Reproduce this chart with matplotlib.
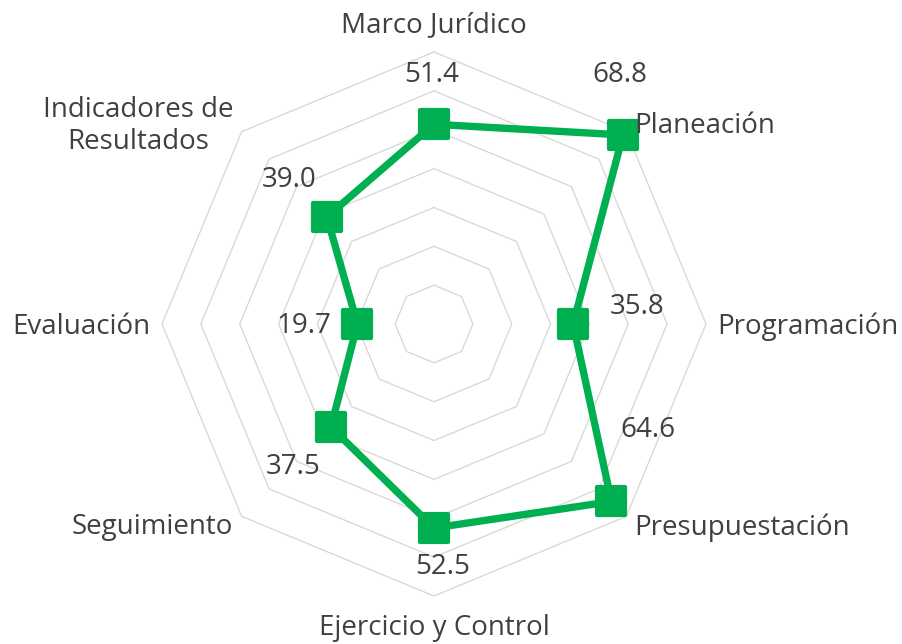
import numpy as np
import matplotlib
matplotlib.use("Agg")
import matplotlib.pyplot as plt
from matplotlib.markers import MarkerStyle

# data
categories = ["Marco Jurídico", "Planeación", "Programación", "Presupuestación",
              "Ejercicio y Control", "Seguimiento", "Evaluación", "Indicadores de\nResultados"]
values = [51.4, 68.8, 35.8, 64.6, 52.5, 37.5, 19.7, 39.0]
value_labels = ["51.4", "68.8", "35.8", "64.6", "52.5", "37.5", "19.7", "39.0"]
rings = [10, 20, 30, 40, 50, 60, 70]

green = "#00b050"
grid_c = "#d9d9d9"
text_c = "#404040"
plt.rcParams['font.family'] = ['Open Sans', 'DejaVu Sans']

W, H = 902, 644
cx, cy = 434, 324          # centre in pixels
scale = 272 / 70.0         # pixels per unit

fig = plt.figure(figsize=(W / 100, H / 100), dpi=100)
ax = fig.add_axes([0, 0, 1, 1])
ax.set_xlim(-cx / scale, (W - cx) / scale)
ax.set_ylim(-(H - cy) / scale, cy / scale)
ax.axis("off")

n = len(categories)
ang = np.deg2rad(90 - 45 * np.arange(n))

# octagon grid
for r in rings:
    xs = r * np.cos(np.append(ang, ang[0]))
    ys = r * np.sin(np.append(ang, ang[0]))
    ax.plot(xs, ys, color=grid_c, lw=1.0, zorder=1)

# series
v = np.array(values)
px = v * np.cos(ang)
py = v * np.sin(ang)
ax.plot(np.append(px, px[0]), np.append(py, py[0]), color=green, lw=5.3,
        solid_joinstyle="round", zorder=2)
ax.plot(px, py, ls="none", marker=MarkerStyle("s", joinstyle="round"),
        ms=19.5, mfc=green, mec=green, mew=3, zorder=3)

# value labels (offsets in pixels from the marker)
offsets = [(-2, 49), (-3, 60), (64, 17), (36, 71), (9, -39), (-38, -40), (-54, -2), (-38, 37)]
for x, y, lab, off in zip(px, py, value_labels, offsets):
    ax.annotate(lab, (x, y), xytext=off, textcoords="offset pixels",
                ha="center", va="center", fontsize=20, color=text_c, zorder=4)

# category labels
for i, (a, lab) in enumerate(zip(ang, categories)):
    c, s = np.cos(a), np.sin(a)
    if abs(c) < 1e-6:
        r = 77.6
        ha = "center"
    else:
        r = 73
        ha = "left" if c > 0 else "right"
    ax.text(r * c, r * s - 0.7, lab, ha=ha, va="center", multialignment="center",
            fontsize=20, color=text_c, linespacing=1.18)

fig.savefig("out.png", dpi=100, facecolor="white")
